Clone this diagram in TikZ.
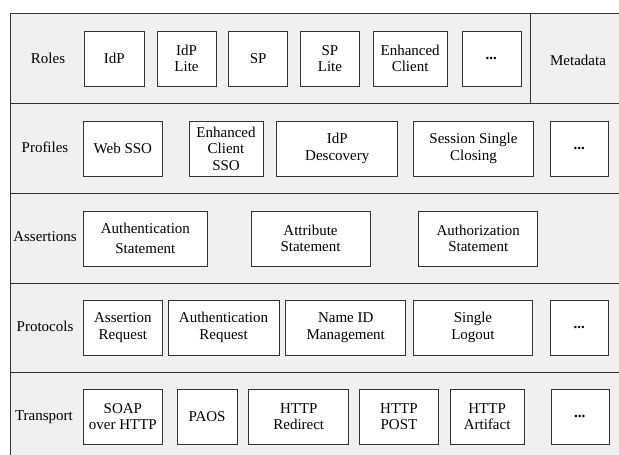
\documentclass[tikz,border=0pt]{standalone}
\usepackage{fontspec}
\setmainfont{Liberation Serif}
\usetikzlibrary{positioning}

\begin{document}
\begin{tikzpicture}
    [
        x=1pt, y=-1pt,
        layer/.style = {
            draw=black!80, fill=black!6, line width=0.8pt
            },
        box/.style = {
            rectangle, draw=black!80, fill=white, line width=0.7pt,
            minimum height=55pt, inner sep=1pt, align=center,
            font=\rmfamily\fontsize{15}{16.5}\selectfont
            },
        layername/.style = {
            font=\rmfamily\fontsize{15}{16.5}\selectfont
            },
    ]
    \clip (0,0) rectangle (619,455);
    %layers
    \draw[layer] (10,13) rectangle (630,103);
    \draw[layer] (10,103) rectangle (630,193);
    \draw[layer] (10,193) rectangle (630,283);
    \draw[layer] (10,283) rectangle (630,372);
    \draw[layer] (10,372) rectangle (630,470);
    \draw[black!80, line width=0.8pt] (530,13) -- (530,103);

    %layer names
    \node[layername] (roles) at (48,58) {Roles};
    \node[layername] (profiles) at (45,147) {Profiles};
    \node[layername] (assertions) at (45,237) {Assertions};
    \node[layername] (protocols) at (45,326) {Protocols};
    \node[layername] (transport) at (44,417) {Transport};
    \node[layername] (metadata) at (578,60) {Metadata};

    %roles
    \node[box, minimum width=60pt, anchor=west] (idp) at (84,58.5) {IdP};
    \node[box, minimum width=59pt] (idp lite) [right=12pt of idp] {IdP\\Lite};
    \node[box, minimum width=59pt] (sp) [right=12pt of idp lite] {SP};
    \node[box, minimum width=59pt] (sp lite) [right=12pt of sp] {SP\\Lite};
    \node[box, minimum width=74pt] (enhanced client) [right=13pt of sp lite] {Enhanced\\Client};
    \node[box, minimum width=59pt] (roles more) [right=14pt of enhanced client] {\textbf{...}};

    %profiles
    \node[box, minimum width=79pt, anchor=west] (web sso) at (83,148.5) {Web SSO};
    \node[box, minimum width=74pt] (ecp sso) [right=26pt of web sso] {Enhanced\\Client\\SSO};
    \node[box, minimum width=121pt] (idp discovery) [right=13pt of ecp sso] {IdP\\Descovery};
    \node[box, minimum width=120pt] (single closing) [right=15pt of idp discovery] {Session Single\\Closing};
    \node[box, minimum width=58pt] (profiles more) [right=16pt of single closing] {\textbf{...}};

    %assertions
    \node[box, minimum width=124pt, anchor=west, font=\rmfamily\fontsize{15}{20}\selectfont] (authn statement) at (83,238.5) {Authentication\\Statement};
    \node[box, minimum width=119pt] (attr statement) [right=43pt of authn statement] {Attribute\\Statement};
    \node[box, minimum width=119pt] (authz statement) [right=48pt of attr statement] {Authorization\\Statement};

    %protocols
    \node[box, minimum width=79pt, anchor=west] (assertion request) at (83,327.5) {Assertion\\Request};
    \node[box, minimum width=111pt] (authn request) [right=5pt of assertion request] {Authentication\\Request};
    \node[box, minimum width=120pt] (name id) [right=6pt of authn request] {Name ID\\Management};
    \node[box, minimum width=119pt] (single logout) [right=7pt of name id] {Single\\Logout};
    \node[box, minimum width=58pt] (protocols more) [right=17pt of single logout] {\textbf{...}};

    %transport
    \node[box, minimum width=79pt, anchor=west] (soap) at (83,416.5) {SOAP\\over HTTP};
    \node[box, minimum width=60pt] (paos) [right=14pt of soap] {PAOS};
    \node[box, minimum width=100pt] (redirect) [right=11pt of paos] {HTTP\\Redirect};
    \node[box, minimum width=79pt] (post) [right=10pt of redirect] {HTTP\\POST};
    \node[box, minimum width=74pt] (artifact) [right=11pt of post] {HTTP\\Artifact};
    \node[box, minimum width=58pt] (transport more) [right=26pt of artifact] {\textbf{...}};

\end{tikzpicture}
\end{document}
